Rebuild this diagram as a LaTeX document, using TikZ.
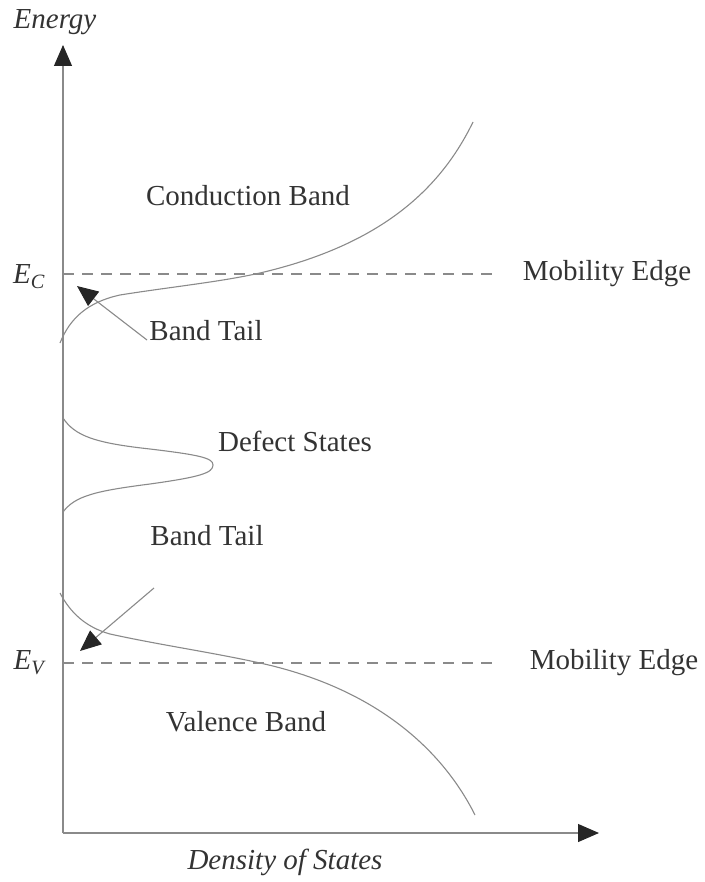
\documentclass[tikz,border=0pt]{standalone}
\usepackage{fontspec}
\setmainfont{Liberation Serif}
\usetikzlibrary{arrows.meta}
\definecolor{linegrey}{HTML}{8A8A8A}
\definecolor{textgrey}{HTML}{333333}
\tikzset{
  axis/.style={draw=linegrey, line width=1.1pt, -{Triangle[length=21pt,width=18pt,fill=black!85,color=black!85]}},
  curve/.style={draw=linegrey, line width=1.1pt},
  edge/.style={draw=linegrey, line width=1.1pt, dash pattern=on 11pt off 8pt},
  pointer/.style={draw=linegrey, line width=1.1pt, -{Triangle[length=21pt,width=18pt,fill=black!85,color=black!85]}},
  lbl/.style={text=textgrey, font=\fontsize{29}{34}\selectfont, inner sep=0pt},
  ilbl/.style={text=textgrey, font=\fontsize{29}{34}\selectfont\itshape, inner sep=0pt}
}
\begin{document}
\begin{tikzpicture}[x=1pt,y=-1pt]
\useasboundingbox (0,0) rectangle (704,882);
% axes
\coordinate (o) at (63,833);
\coordinate (ytip) at (63,45);
\coordinate (xtip) at (599,833);
\draw[axis] (o) -- (ytip);
\draw[axis] (o) -- (xtip);
\node[ilbl] (energy) at (55,22) {Energy};
\node[ilbl] (dos) at (285,862) {Density of States};
% mobility edges
\coordinate (ec0) at (63,274);
\coordinate (ec1) at (495,274);
\coordinate (ev0) at (63,663);
\coordinate (ev1) at (495,663);
\draw[edge] (ec0) -- (ec1);
\draw[edge] (ev0) -- (ev1);
\node[ilbl] (EC) at (29,277) {E\textsubscript{\textit{C}}};
\node[ilbl] (EV) at (29,663) {E\textsubscript{\textit{V}}};
\node[lbl] (me1) at (607,274) {Mobility Edge};
\node[lbl] (me2) at (614,663) {Mobility Edge};
% conduction band
\draw[curve] (60,343) .. controls (70,318) and (88,302) .. (120,295)
  .. controls (170,287) and (220,282) .. (260,273)
  .. controls (380,245) and (440,190) .. (473,122);
% defect states
\draw[curve] (63,418) .. controls (75,436) and (95,443) .. (150,449)
  .. controls (200,455) and (213,458) .. (213,465)
  .. controls (213,473) and (200,477) .. (150,484)
  .. controls (95,491) and (75,496) .. (63,512);
% valence band
\draw[curve] (60,593) .. controls (70,612) and (85,627) .. (110,634)
  .. controls (160,645) and (210,652) .. (260,663)
  .. controls (370,687) and (440,745) .. (475,815);
% labels
\node[lbl] (cb) at (248,196) {Conduction Band};
\node[lbl] (bt1) at (206,331) {Band Tail};
\node[lbl] (ds) at (295,441) {Defect States};
\node[lbl] (bt2) at (207,536) {Band Tail};
\node[lbl] (vb) at (246,722) {Valence Band};
% pointers
\coordinate (p1s) at (147,340);
\coordinate (p1e) at (77,286);
\coordinate (p2s) at (154,588);
\coordinate (p2e) at (80,651);
\draw[pointer] (p1s) -- (p1e);
\draw[pointer] (p2s) -- (p2e);
\end{tikzpicture}
\end{document}
